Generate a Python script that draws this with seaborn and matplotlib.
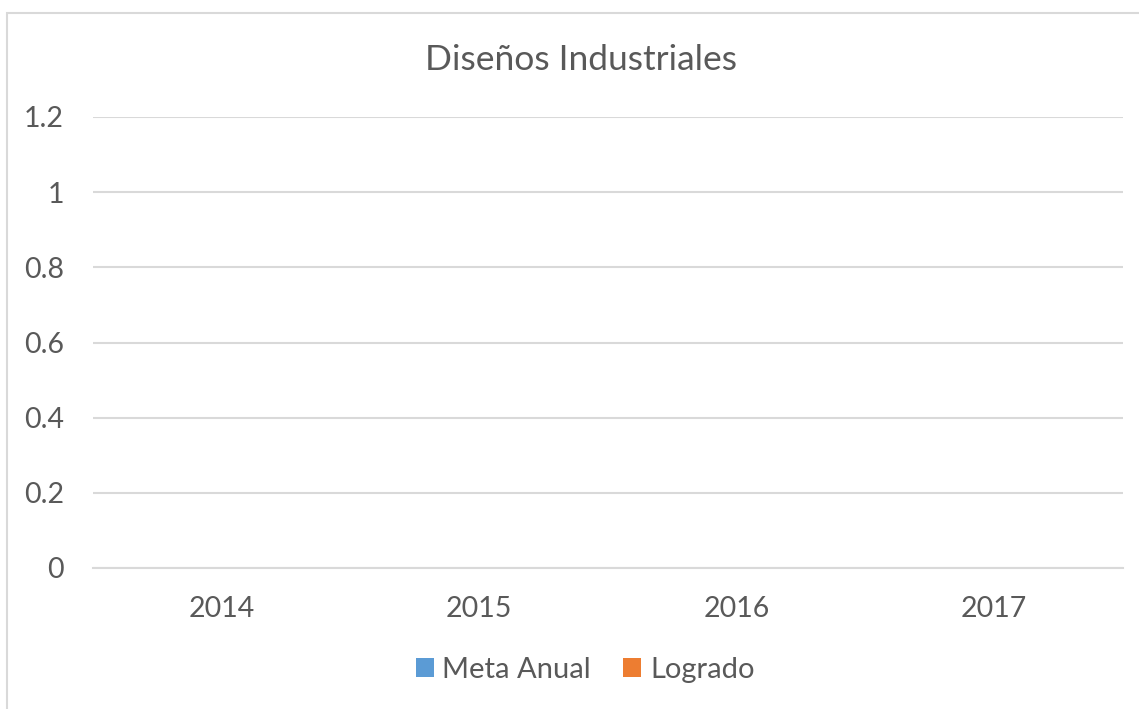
import matplotlib
matplotlib.use("Agg")
import matplotlib.pyplot as plt
import pandas as pd
import seaborn as sns
from matplotlib.patches import Rectangle, Patch

years = ["2014", "2015", "2016", "2017"]
meta_anual = [0, 0, 0, 0]
logrado = [0, 0, 0, 0]
series = ["Meta Anual", "Logrado"]
colors = ["#5b9bd5", "#ed7d31"]
yticks = [0, 0.2, 0.4, 0.6, 0.8, 1, 1.2]
ytick_labels = ["0", "0.2", "0.4", "0.6", "0.8", "1", "1.2"]

df = pd.DataFrame({
    "year": years * 2,
    "value": meta_anual + logrado,
    "serie": [series[0]] * len(years) + [series[1]] * len(years),
})

sns.set_style("white")
plt.rcParams["font.family"] = ["Lato", "DejaVu Sans"]
text_color = "#595959"
grid_color = "#d9d9d9"

fig = plt.figure(figsize=(11.39, 7.09), dpi=100)
ax = fig.add_axes([93 / 1139, 1 - 568 / 709, (1123 - 93) / 1139, (568 - 117) / 709])

sns.barplot(data=df, x="year", y="value", hue="serie", palette=colors,
            ax=ax, legend=False)

ax.set_ylim(0, 1.2)
ax.set_yticks(yticks)
ax.set_yticklabels(ytick_labels)
ax.yaxis.grid(True, color=grid_color, linewidth=1.5)
ax.set_axisbelow(True)
for s in ["top", "right", "left"]:
    ax.spines[s].set_visible(False)
ax.spines["bottom"].set_color(grid_color)
ax.spines["bottom"].set_linewidth(1.5)
ax.tick_params(axis="both", length=0, labelsize=20.5, colors=text_color)
ax.tick_params(axis="y", pad=21)
ax.tick_params(axis="x", pad=20)
ax.set_xlabel("")
ax.set_ylabel("")

fig.text(581 / 1139, 1 - 60 / 709, "Diseños Industriales", ha="center", va="center",
         fontsize=25.5, color=text_color)

handles = [Patch(facecolor=c, edgecolor="none") for c in colors]
fig.legend(handles, series, loc="center", bbox_to_anchor=(585 / 1139, 1 - 670 / 709),
           ncol=2, frameon=False, fontsize=21, labelcolor=text_color,
           handlelength=0.62, handleheight=0.62, handletextpad=0.3, columnspacing=1.1)

fig.patches.append(Rectangle((7 / 1139, -0.1), 1.2, 1 - 13 / 709 + 0.1,
                             transform=fig.transFigure, fill=False,
                             edgecolor=grid_color, linewidth=1.5))

fig.savefig("out.png", dpi=100)
